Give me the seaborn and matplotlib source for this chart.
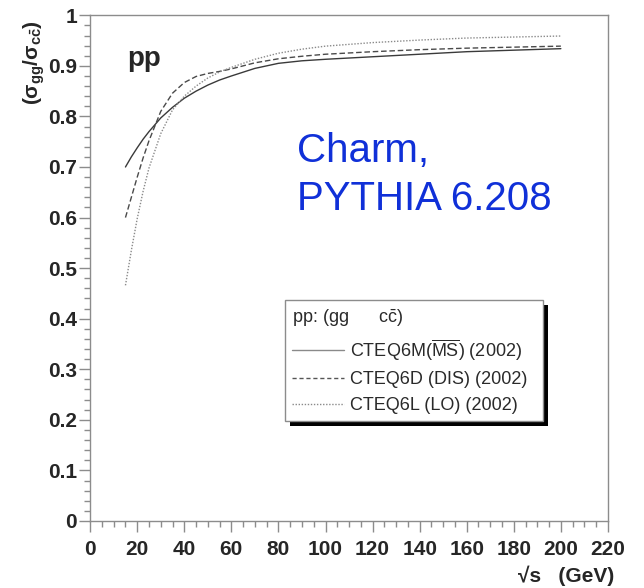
import pandas as pd
import matplotlib
matplotlib.use('Agg')
import matplotlib.pyplot as plt
import seaborn as sns
from matplotlib.lines import Line2D
from matplotlib.patches import Rectangle
from matplotlib.ticker import MultipleLocator

# --- data ---
sqrt_s = [15, 17.5, 20, 22.5, 25, 30, 35, 40, 45, 50, 55, 60, 70, 80, 90, 100, 120, 140, 160, 180, 200]
ratio_cteq6m = [0.700, 0.720, 0.738, 0.755, 0.770, 0.797, 0.818, 0.836, 0.850, 0.862, 0.872,
                0.880, 0.895, 0.905, 0.910, 0.913, 0.918, 0.923, 0.928, 0.931, 0.934]
ratio_cteq6d = [0.600, 0.640, 0.680, 0.718, 0.752, 0.810, 0.846, 0.867, 0.879, 0.885, 0.889,
                0.894, 0.906, 0.914, 0.919, 0.923, 0.928, 0.932, 0.935, 0.937, 0.939]
ratio_cteq6l = [0.466, 0.535, 0.598, 0.652, 0.698, 0.766, 0.813, 0.840, 0.860, 0.876, 0.888,
                0.897, 0.913, 0.925, 0.933, 0.939, 0.946, 0.951, 0.955, 0.957, 0.959]
pdf_names = ['CTEQ6M', 'CTEQ6D', 'CTEQ6L']
legend_labels = [r'CTEQ6M($\overline{\mathrm{MS}}$) (2002)',
                 'CTEQ6D (DIS) (2002)',
                 'CTEQ6L (LO) (2002)']
x_ticks = [0, 20, 40, 60, 80, 100, 120, 140, 160, 180, 200, 220]
y_ticks = [0, 0.1, 0.2, 0.3, 0.4, 0.5, 0.6, 0.7, 0.8, 0.9, 1.0]

df = pd.DataFrame({
    'sqrt_s': sqrt_s * 3,
    'ratio': ratio_cteq6m + ratio_cteq6d + ratio_cteq6l,
    'pdf': [n for n in pdf_names for _ in sqrt_s],
})

# --- style ---
sns.set_theme(style='white')
plt.rcParams['font.family'] = ['Liberation Sans', 'DejaVu Sans']
plt.rcParams['mathtext.fontset'] = 'custom'
plt.rcParams['mathtext.rm'] = 'Liberation Sans'
plt.rcParams['mathtext.it'] = 'Liberation Sans:italic'
plt.rcParams['mathtext.bf'] = 'Liberation Sans:bold'

line_colors = {'CTEQ6M': '#3a3a3a', 'CTEQ6D': '#4a4a4a', 'CTEQ6L': '#8a8a8a'}
line_dashes = {'CTEQ6M': '', 'CTEQ6D': (4, 2), 'CTEQ6L': (1, 1.2)}
frame_grey = '#8c8c8c'

fig = plt.figure(figsize=(6.44, 5.88), dpi=100)
ax = fig.add_axes([0.140, 0.114, 0.804, 0.860])

sns.lineplot(data=df, x='sqrt_s', y='ratio', hue='pdf', style='pdf',
             palette=line_colors, dashes=line_dashes, linewidth=1.0,
             legend=False, ax=ax)

ax.set_xlim(0, 220)
ax.set_ylim(0, 1)
ax.set_xticks(x_ticks)
ax.set_xticklabels([str(t) for t in x_ticks])
ax.set_yticks(y_ticks)
ax.set_yticklabels(['0' if t == 0 else ('1' if t == 1 else f'{t:.1f}') for t in y_ticks])
ax.xaxis.set_minor_locator(MultipleLocator(5))
ax.yaxis.set_minor_locator(MultipleLocator(0.02))

for sp in ax.spines.values():
    sp.set_color(frame_grey)
    sp.set_linewidth(1.0)

ax.tick_params(axis='both', which='both', direction='out', color=frame_grey,
               bottom=True, left=True, top=False, right=False)
ax.tick_params(axis='x', which='major', length=8, width=1, pad=6, labelsize=15)
ax.tick_params(axis='x', which='minor', length=4, width=1)
ax.tick_params(axis='y', which='major', length=8, width=1, pad=1.5, labelsize=15)
ax.tick_params(axis='y', which='minor', length=4, width=1)
for lab in ax.get_xticklabels() + ax.get_yticklabels():
    lab.set_fontweight('bold')

ax.set_ylabel(r'$\mathbf{(\sigma_{gg}/\sigma_{c\bar{c}})}$', fontsize=15, loc='top')
ax.yaxis.set_label_coords(-0.083, 0.99)
ax.set_xlabel('√s   (GeV)', fontsize=15, fontweight='bold', loc='right')
ax.xaxis.set_label_coords(1.013, -0.088)

ax.text(15.7, 0.90, 'pp', fontsize=20, fontweight='bold', va='baseline', ha='left')
ax.text(88, 0.709, 'Charm,', fontsize=29, color='#1030d8', va='baseline', ha='left')
ax.text(88, 0.615, 'PYTHIA 6.208', fontsize=29, color='#1030d8', va='baseline', ha='left')

# --- legend with a hard black shadow ---
handles = [Line2D([], [], color='#8a8a8a', lw=1.0, linestyle='-'),
           Line2D([], [], color='#555555', lw=1.0, dashes=(3, 2)),
           Line2D([], [], color='#8a8a8a', lw=1.0, dashes=(1, 1.2))]
leg = ax.legend(handles, legend_labels, title=r'pp: (gg      c$\bar{\mathrm{c}}$)',
                loc='upper left', bbox_to_anchor=(0.376, 0.337, 0.498, 0.1), mode='expand',
                borderaxespad=0, frameon=True, fancybox=False, shadow=False,
                fontsize=13, title_fontsize=13, alignment='left',
                handlelength=2.9, handletextpad=0.3, labelspacing=0.48, borderpad=0.4)
leg.get_frame().set_edgecolor(frame_grey)
leg.get_frame().set_linewidth(1.0)
leg.get_frame().set_facecolor('white')
leg.get_frame().set_alpha(1)
for t in leg.get_texts():
    t.set_color('#2a2a2a')
leg.get_title().set_color('#2a2a2a')
leg.set_zorder(6)

fig.canvas.draw()
bb = leg.get_window_extent().transformed(ax.transAxes.inverted())
dx = 5 / (0.804 * 644)
dy = 5 / (0.860 * 588)
ax.add_patch(Rectangle((bb.x0 + dx, bb.y0 - dy), bb.width, bb.height, transform=ax.transAxes,
                       facecolor='black', edgecolor='none', zorder=5, clip_on=False))

fig.savefig('out.png', dpi=100)
